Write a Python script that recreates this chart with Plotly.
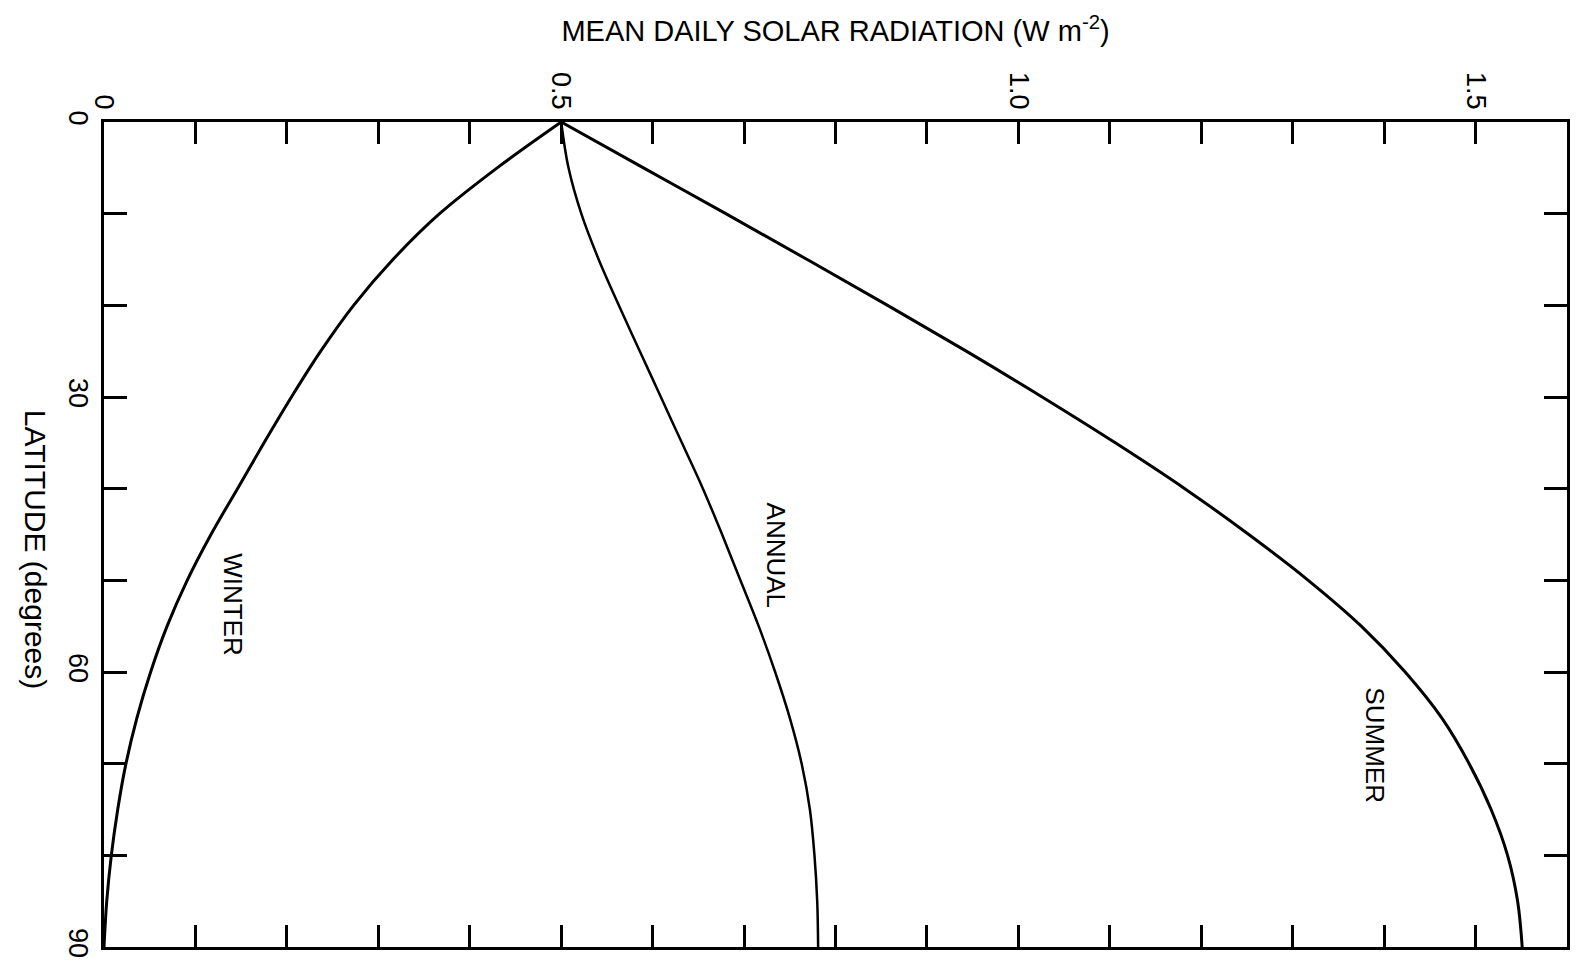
import plotly.graph_objects as go

# Latitude (degrees)
latitude = [0, 5, 10, 15, 20, 25, 30, 35, 40, 45, 50, 55, 60, 65, 70, 75, 80, 85, 90]

# Mean daily solar radiation
winter = [0.500, 0.430, 0.367, 0.316, 0.273, 0.237, 0.205, 0.175, 0.146, 0.117,
          0.091, 0.069, 0.051, 0.036, 0.024, 0.015, 0.008, 0.003, 0.000]
annual = [0.500, 0.508, 0.522, 0.541, 0.563, 0.586, 0.609, 0.632, 0.655, 0.676,
          0.696, 0.716, 0.734, 0.750, 0.763, 0.772, 0.777, 0.780, 0.781]
summer = [0.500, 0.590, 0.680, 0.769, 0.857, 0.943, 1.026, 1.106, 1.182, 1.252,
          1.317, 1.375, 1.423, 1.463, 1.493, 1.517, 1.535, 1.546, 1.551]

x_tickvals = [0, 0.5, 1.0, 1.5]
x_ticktext = ["0", "0.5", "1.0", "1.5"]
y_tickvals = [0, 30, 60, 90]
y_ticktext = ["0", "30", "60", "90"]

curve_labels = ["WINTER", "ANNUAL", "SUMMER"]
label_x = [0.141, 0.735, 1.390]
label_lat = [52.7, 47.2, 68.0]

font_family = "Liberation Sans, Arial, sans-serif"

fig = go.Figure()
for vals, w in [(winter, 3.0), (annual, 2.5), (summer, 3.0)]:
    fig.add_trace(go.Scatter(x=vals, y=latitude, mode="lines",
                             line=dict(color="black", width=w, shape="spline", smoothing=1.0),
                             showlegend=False, hoverinfo="skip"))

for t, lx, ly in zip(curve_labels, label_x, label_lat):
    fig.add_annotation(x=lx, y=ly, xref="x", yref="y", text=t, textangle=90,
                       showarrow=False, font=dict(family=font_family, size=26, color="black"))

fig.add_annotation(x=-0.0595, y=0.481, xref="paper", yref="paper",
                   text="LATITUDE (degrees)", textangle=90, showarrow=False,
                   font=dict(family=font_family, size=30, color="black"))

tick_style = dict(ticks="inside", ticklen=22, tickwidth=3, tickcolor="black",
                  showline=True, linewidth=3, linecolor="black", mirror="ticks",
                  showgrid=False, zeroline=False, tickangle=90,
                  tickfont=dict(family=font_family, size=27, color="black"))

fig.update_xaxes(range=[0, 1.6], side="top", tickmode="array",
                 tickvals=x_tickvals, ticktext=x_ticktext,
                 minor=dict(dtick=0.1, tick0=0, ticks="inside", ticklen=22,
                            tickwidth=3, tickcolor="black", showgrid=False),
                 title=dict(text="MEAN DAILY SOLAR RADIATION (W m<sup>-2</sup>)",
                            font=dict(family=font_family, size=29, color="black"),
                            standoff=22),
                 **tick_style)
fig.update_yaxes(range=[90, 0], tickmode="array",
                 tickvals=y_tickvals, ticktext=y_ticktext,
                 minor=dict(dtick=10, tick0=0, ticks="inside", ticklen=23,
                            tickwidth=3, tickcolor="black", showgrid=False),
                 **tick_style)

fig.update_layout(width=1581, height=971,
                  margin=dict(l=104, r=14, t=122, b=24),
                  paper_bgcolor="white", plot_bgcolor="white")

fig.write_html("out.html")
